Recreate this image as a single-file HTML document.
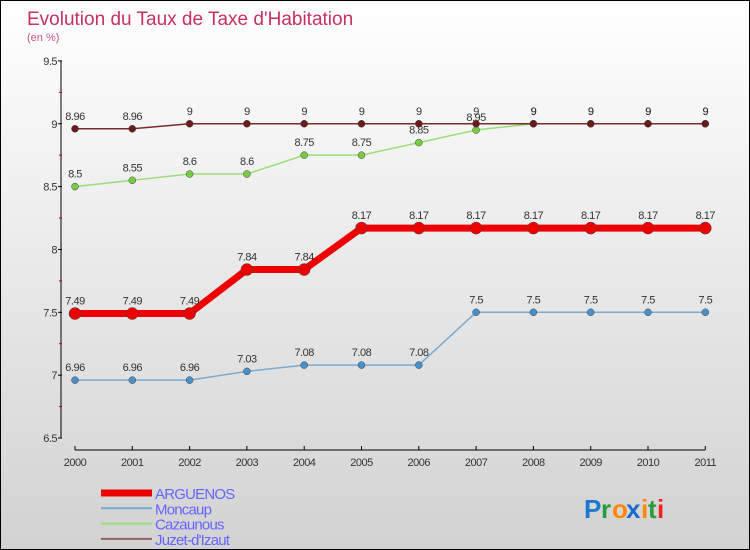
<!DOCTYPE html>
<html><head><meta charset="utf-8"><style>
body{margin:0}
#c{position:relative;width:748px;height:548px;border:1px solid #000;background:linear-gradient(#fff,#d2d2d2);font-family:"Liberation Sans",sans-serif;overflow:hidden}
</style></head><body>
<div id="c">
<svg id="s" width="748" height="548"></svg>
</div>
<script>
const years=["2000","2001","2002","2003","2004","2005","2006","2007","2008","2009","2010","2011"];
const arguenos=[7.49,7.49,7.49,7.84,7.84,8.17,8.17,8.17,8.17,8.17,8.17,8.17];
const moncaup=[6.96,6.96,6.96,7.03,7.08,7.08,7.08,7.5,7.5,7.5,7.5,7.5];
const cazaunous=[8.5,8.55,8.6,8.6,8.75,8.75,8.85,8.95,9,9,9,9];
const juzet=[8.96,8.96,9,9,9,9,9,9,9,9,9,9];
const yTicks=[6.5,7,7.5,8,8.5,9,9.5];
const s=document.getElementById('s');
const NS="http://www.w3.org/2000/svg";
function x(i){return 74+i*57.3;}
function y(v){return 437-(v-6.5)*125.7;}
function el(t,a,txt){const e=document.createElementNS(NS,t);for(const k in a)e.setAttribute(k,a[k]);if(txt!==undefined)e.textContent=txt;s.appendChild(e);return e;}
let e;
e=el('text',{x:26,y:24,'font-size':19,fill:'#c8305f'},"Evolution du Taux de Taxe d'Habitation");

e=el('text',{x:26,y:40,'font-size':11,fill:'#c8508f'},"(en %)");

e=el('line',{x1:60,y1:y(9.5),x2:60,y2:y(6.5),stroke:'#000','stroke-width':1});

yTicks.forEach((v,i)=>{
 el('line',{x1:57,y1:y(v),x2:61,y2:y(v),stroke:'#000'});
 if(i<yTicks.length-1){el('line',{x1:58,y1:y(v+0.25),x2:61,y2:y(v+0.25),stroke:'#c00'});}
 e=el('text',{x:56,y:y(v)+4,'font-size':11,fill:'#333','text-anchor':'end','letter-spacing':'-0.5'},String(v));
 
});
e=el('line',{x1:x(0),y1:449,x2:x(11),y2:449,stroke:'#000'});

years.forEach((yr,i)=>{
 el('line',{x1:x(i),y1:445,x2:x(i),y2:449,stroke:'#000'});
 e=el('text',{x:x(i),y:465,'font-size':11,fill:'#333','text-anchor':'middle','letter-spacing':'-0.5'},yr);
 
});
const series=[
 {n:'moncaup',d:moncaup,c:'#7aaad0',lw:1.5,r:3.5,fc:'#4a90c8'},
 {n:'cazaunous',d:cazaunous,c:'#99dd77',lw:1.5,r:3.5,fc:'#77cc44'},
 {n:'juzet',d:juzet,c:'#7a2a2a',lw:1.5,r:3.5,fc:'#6b1a1a'},
 {n:'arguenos',d:arguenos,c:'#ee0000',lw:7,r:6,fc:'#ee0000'}
];
series.forEach(se=>{
 e=el('polyline',{points:se.d.map((v,i)=>x(i)+','+y(v)).join(' '),fill:'none',stroke:se.c,'stroke-width':se.lw});
 
 se.d.forEach((v,i)=>{
  e=el('circle',{cx:x(i),cy:y(v),r:se.r,fill:se.fc,stroke:'#444','stroke-width':0.5});
  
  e=el('text',{x:x(i),y:y(v)-9,'font-size':11,fill:'#333','text-anchor':'middle','letter-spacing':'-0.5'},String(v));
  
 });
});
const leg=[['ARGUENOS','#ee0000',7],['Moncaup','#7aaad0',2],['Cazaunous','#99dd77',2],['Juzet-d\'Izaut','#9a6060',2]];
leg.forEach((l,i)=>{
 const yy=492+i*15.3;
 e=el('line',{x1:100,y1:yy,x2:151,y2:yy,stroke:l[1],'stroke-width':l[2]});
 
 e=el('text',{x:154,y:yy+6,'font-size':15,fill:'#6666ff','letter-spacing':'-0.8'},l[0]);
 
});
const logo=[['P','#1a7ad0'],['r','#2a9a3a'],['o','#ff8800'],['x','#1a6ad0'],['i','#ff8800'],['t','#2a9a3a'],['i','#ee2222']];
let lx=583;
const lw=[17,11,14,15,7,9,7];
logo.forEach((c,i)=>{
 e=el('text',{x:lx,y:517,'font-size':26,'font-weight':'bold',fill:c[1]},c[0]);
 
 lx+=lw[i];
});
</script>
</body></html>
